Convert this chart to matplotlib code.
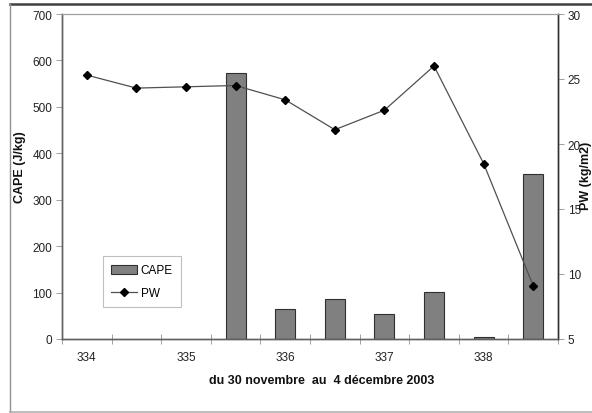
import matplotlib
matplotlib.use("Agg")
import matplotlib.pyplot as plt
from matplotlib.lines import Line2D
from matplotlib.patches import Patch
import numpy as np

plt.rcParams['font.family'] = ['Liberation Sans', 'DejaVu Sans']

# Data
n_cat = 10
day_labels = ["334", "335", "336", "337", "338"]
cape = [0, 0, 0, 574, 64, 86, 53, 101, 4, 355]
pw = [25.3, 24.3, 24.4, 24.5, 23.4, 21.1, 22.6, 26.0, 18.5, 9.1]
cape_ticks = [0, 100, 200, 300, 400, 500, 600, 700]
pw_ticks = [5, 10, 15, 20, 25, 30]

W, H = 592, 414
fig = plt.figure(figsize=(W / 100, H / 100), dpi=100)
fig.patch.set_facecolor('white')

ax = fig.add_axes([62 / W, 1 - 340 / H, 496 / W, 325 / H])
ax2 = ax.twinx()

x = np.arange(n_cat)
bar_x = [i for i in x if cape[i] > 0]
bar_v = [cape[i] for i in bar_x]
ax.bar(bar_x, bar_v, width=0.4, color='#808080', edgecolor='#303030', linewidth=0.8, zorder=2)
ax2.plot(x, pw, color='#505050', linewidth=0.9, marker='D', markersize=4.2,
         markerfacecolor='black', markeredgecolor='black', zorder=3)

ax.set_xlim(-0.5, n_cat - 0.5)
ax.set_ylim(0, 700)
ax2.set_ylim(5, 30)
ax.set_yticks(cape_ticks)
ax2.set_yticks(pw_ticks)

ax.set_xticks(np.arange(-0.5, n_cat, 1.0))
ax.set_xticklabels([])
ax.set_xticks(np.arange(0, n_cat, 2), minor=True)
ax.set_xticklabels(day_labels, minor=True)
ax.tick_params(axis='x', which='major', direction='inout', length=7, width=0.6, color='#909090')
ax.tick_params(axis='x', which='minor', length=0, pad=9, labelsize=8.5, labelcolor='#222222')
ax.tick_params(axis='y', direction='out', length=4, width=0.6, color='#909090', labelsize=8.5,
               labelcolor='#222222', pad=3)
ax2.tick_params(axis='y', direction='out', length=4, width=0.6, color='#909090', labelsize=8.5,
                labelcolor='#222222', pad=3)

for a in (ax, ax2):
    a.spines['top'].set_color('#a0a0a0')
    a.spines['top'].set_linewidth(0.8)
    a.spines['left'].set_color('#606060')
    a.spines['right'].set_color('#303030')
    a.spines['bottom'].set_color('#606060')
    for s in ('left', 'right', 'bottom'):
        a.spines[s].set_linewidth(1.0)

fig.text(20 / W, 1 - 167 / H, "CAPE (J/kg)", rotation=90, ha='center', va='center',
         fontsize=9, fontweight='bold', color='#111111')
fig.text(586 / W, 1 - 176 / H, "PW (kg/m2)", rotation=90, ha='center', va='center',
         fontsize=9, fontweight='bold', color='#111111')
fig.text(322 / W, 1 - 381 / H, "du 30 novembre  au  4 décembre 2003", ha='center', va='center',
         fontsize=9, fontweight='bold', color='#111111')

handles = [Patch(facecolor='#808080', edgecolor='#303030', linewidth=0.8, label='CAPE'),
           Line2D([0], [0], color='#505050', linewidth=0.9, marker='D', markersize=4,
                  markerfacecolor='black', markeredgecolor='black', label='PW')]
leg = ax2.legend(handles=handles, loc='upper left',
                 bbox_to_anchor=(103 / W, 1 - 257 / H), bbox_transform=fig.transFigure,
                 fontsize=8.5, frameon=True, fancybox=False, handlelength=2.2,
                 handleheight=0.8, borderpad=0.7, labelspacing=0.9, handletextpad=0.3,
                 borderaxespad=0)
leg.get_frame().set_edgecolor('#b0b0b0')
leg.get_frame().set_linewidth(0.8)

# Outer frame
fig.add_artist(Line2D([10 / W, 1], [1 - 4.5 / H, 1 - 4.5 / H], transform=fig.transFigure,
                      color='#404040', linewidth=1.8))
fig.add_artist(Line2D([10 / W, 10 / W], [1 - 4.5 / H, 1 - 412.5 / H], transform=fig.transFigure,
                      color='#909090', linewidth=1.0))
fig.add_artist(Line2D([10 / W, 1], [1 - 412.5 / H, 1 - 412.5 / H], transform=fig.transFigure,
                      color='#b0b0b0', linewidth=1.2))

fig.savefig('out.png', dpi=100)
